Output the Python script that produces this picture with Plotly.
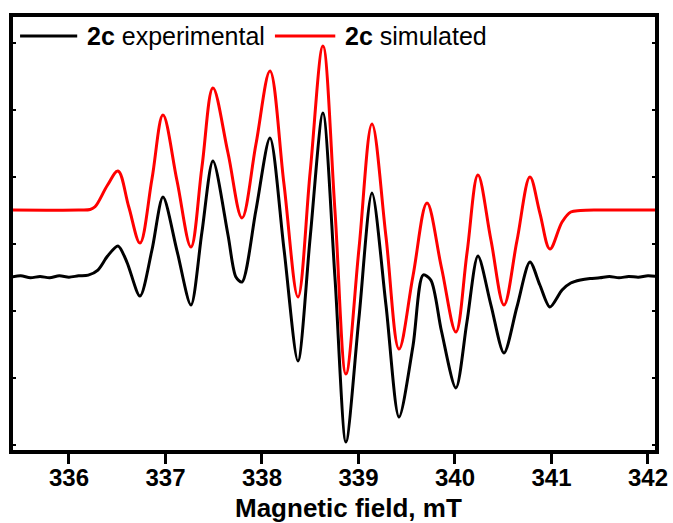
import plotly.graph_objects as go

# ---- data (field in mT, intensity in arbitrary units, curves already offset) ----
series_names = ["experimental", "simulated"]
sample_label = "2c"

exp_field = [335.40, 335.50, 335.60, 335.70, 335.80, 335.90, 336.00, 336.10, 336.20,
             336.30, 336.40, 336.508, 336.60, 336.736, 336.86, 336.974, 337.12, 337.264,
             337.378, 337.492, 337.648, 337.73, 337.793, 337.938, 338.083, 338.228,
             338.373, 338.50, 338.632, 338.756, 338.87, 339.005, 339.14, 339.285,
             339.42, 339.565, 339.67, 339.75, 339.86, 340.01, 340.124, 340.238,
             340.373, 340.508, 340.642, 340.777, 340.88, 340.984, 341.11, 341.20,
             341.30, 341.40, 341.50, 341.60, 341.70, 341.80, 341.90, 342.00, 342.09]
exp_intensity = [2.51, 2.53, 2.50, 2.52, 2.50, 2.53, 2.51, 2.53, 2.54,
                 2.616, 2.825, 2.975, 2.736, 2.228, 2.915, 3.706, 2.900, 2.094,
                 3.184, 4.243, 3.139, 2.512, 2.437, 3.512, 4.587, 2.930,
                 1.258, 3.109, 4.960, 2.512, 0.049, 1.900, 3.766, 2.094,
                 0.422, 1.482, 2.542, 2.467, 1.706, 0.855, 1.840, 2.825,
                 2.094, 1.378, 2.064, 2.736, 2.393, 2.064, 2.318, 2.422,
                 2.467, 2.49, 2.50, 2.52, 2.50, 2.52, 2.51, 2.53, 2.52]

sim_field = [335.40, 336.10, 336.22, 336.27, 336.40, 336.508, 336.62, 336.736, 336.86,
             336.974, 337.12, 337.264, 337.378, 337.492, 337.648, 337.793, 337.938,
             338.083, 338.228, 338.373, 338.50, 338.632, 338.756, 338.87, 339.005,
             339.14, 339.285, 339.42, 339.565, 339.71, 339.86, 340.01, 340.124,
             340.238, 340.373, 340.508, 340.642, 340.777, 340.88, 340.984, 341.11,
             341.20, 341.30, 341.50, 342.09]
sim_intensity = [3.512, 3.512, 3.52, 3.56, 3.885, 4.094, 3.557, 3.019, 3.975,
                 4.930, 3.945, 2.960, 4.154, 5.333, 4.363, 3.393, 4.497,
                 5.587, 3.900, 2.213, 4.087, 5.960, 3.512, 1.064, 2.930,
                 4.796, 3.116, 1.437, 2.527, 3.616, 2.654, 1.691, 2.863,
                 4.034, 3.064, 2.094, 3.049, 4.004, 3.467, 2.930, 3.333,
                 3.482, 3.505, 3.512, 3.512]

x_ticks = [336, 337, 338, 339, 340, 341, 342]
x_title = "Magnetic field, mT"

colors = ["#000000", "#ff0000"]
FONT = "Liberation Sans, Arial"

fig = go.Figure()
fig.add_trace(go.Scatter(x=exp_field, y=exp_intensity, mode="lines",
                         line=dict(color=colors[0], width=3, shape="spline", smoothing=0.8),
                         name=sample_label + " " + series_names[0], showlegend=False))
fig.add_trace(go.Scatter(x=sim_field, y=sim_intensity, mode="lines",
                         line=dict(color=colors[1], width=3, shape="spline", smoothing=1.0),
                         name=sample_label + " " + series_names[1], showlegend=False))

# manual legend (line samples + labels) in paper coordinates
legend_items = [(0.011, 0.100, 0.112), (0.408, 0.502, 0.514)]
for (x0, x1, xt), col, nm in zip(legend_items, colors, series_names):
    fig.add_shape(type="line", xref="paper", yref="paper", x0=x0, x1=x1, y0=0.956, y1=0.956,
                  line=dict(color=col, width=3))
    fig.add_annotation(xref="paper", yref="paper", x=xt, y=0.956, xanchor="left", yanchor="middle",
                       text="<b>" + sample_label + "</b> " + nm, showarrow=False,
                       font=dict(family=FONT, size=25, color="black"))

# x-axis title as an annotation (reference places it slightly right of centre)
fig.add_annotation(xref="paper", yref="paper", x=0.522, y=-0.134, xanchor="center", yanchor="middle",
                   text="<b>" + x_title + "</b>", showarrow=False,
                   font=dict(family=FONT, size=26, color="black"))

fig.update_layout(
    width=673, height=523,
    margin=dict(l=13, r=18, t=17, b=73),
    paper_bgcolor="white", plot_bgcolor="white",
    font=dict(family=FONT, color="black"),
)
fig.update_xaxes(range=[335.42, 342.073], tickvals=x_ticks, ticktext=[str(t) for t in x_ticks],
                 automargin=False, ticklabelstandoff=-7,
                 showgrid=False, zeroline=False, showline=True, linewidth=4, linecolor="black",
                 mirror=True, ticks="outside", ticklen=10, tickwidth=3, tickcolor="black",
                 tickfont=dict(family=FONT, size=24, color="black", weight="bold"))
fig.update_yaxes(range=[-0.07, 6.393], dtick=1, tick0=0, showticklabels=False, automargin=False,
                 showgrid=False, zeroline=False, showline=True, linewidth=4, linecolor="black",
                 mirror="ticks", ticks="inside", ticklen=3, tickwidth=2, tickcolor="black")

fig.write_html("out.html")
